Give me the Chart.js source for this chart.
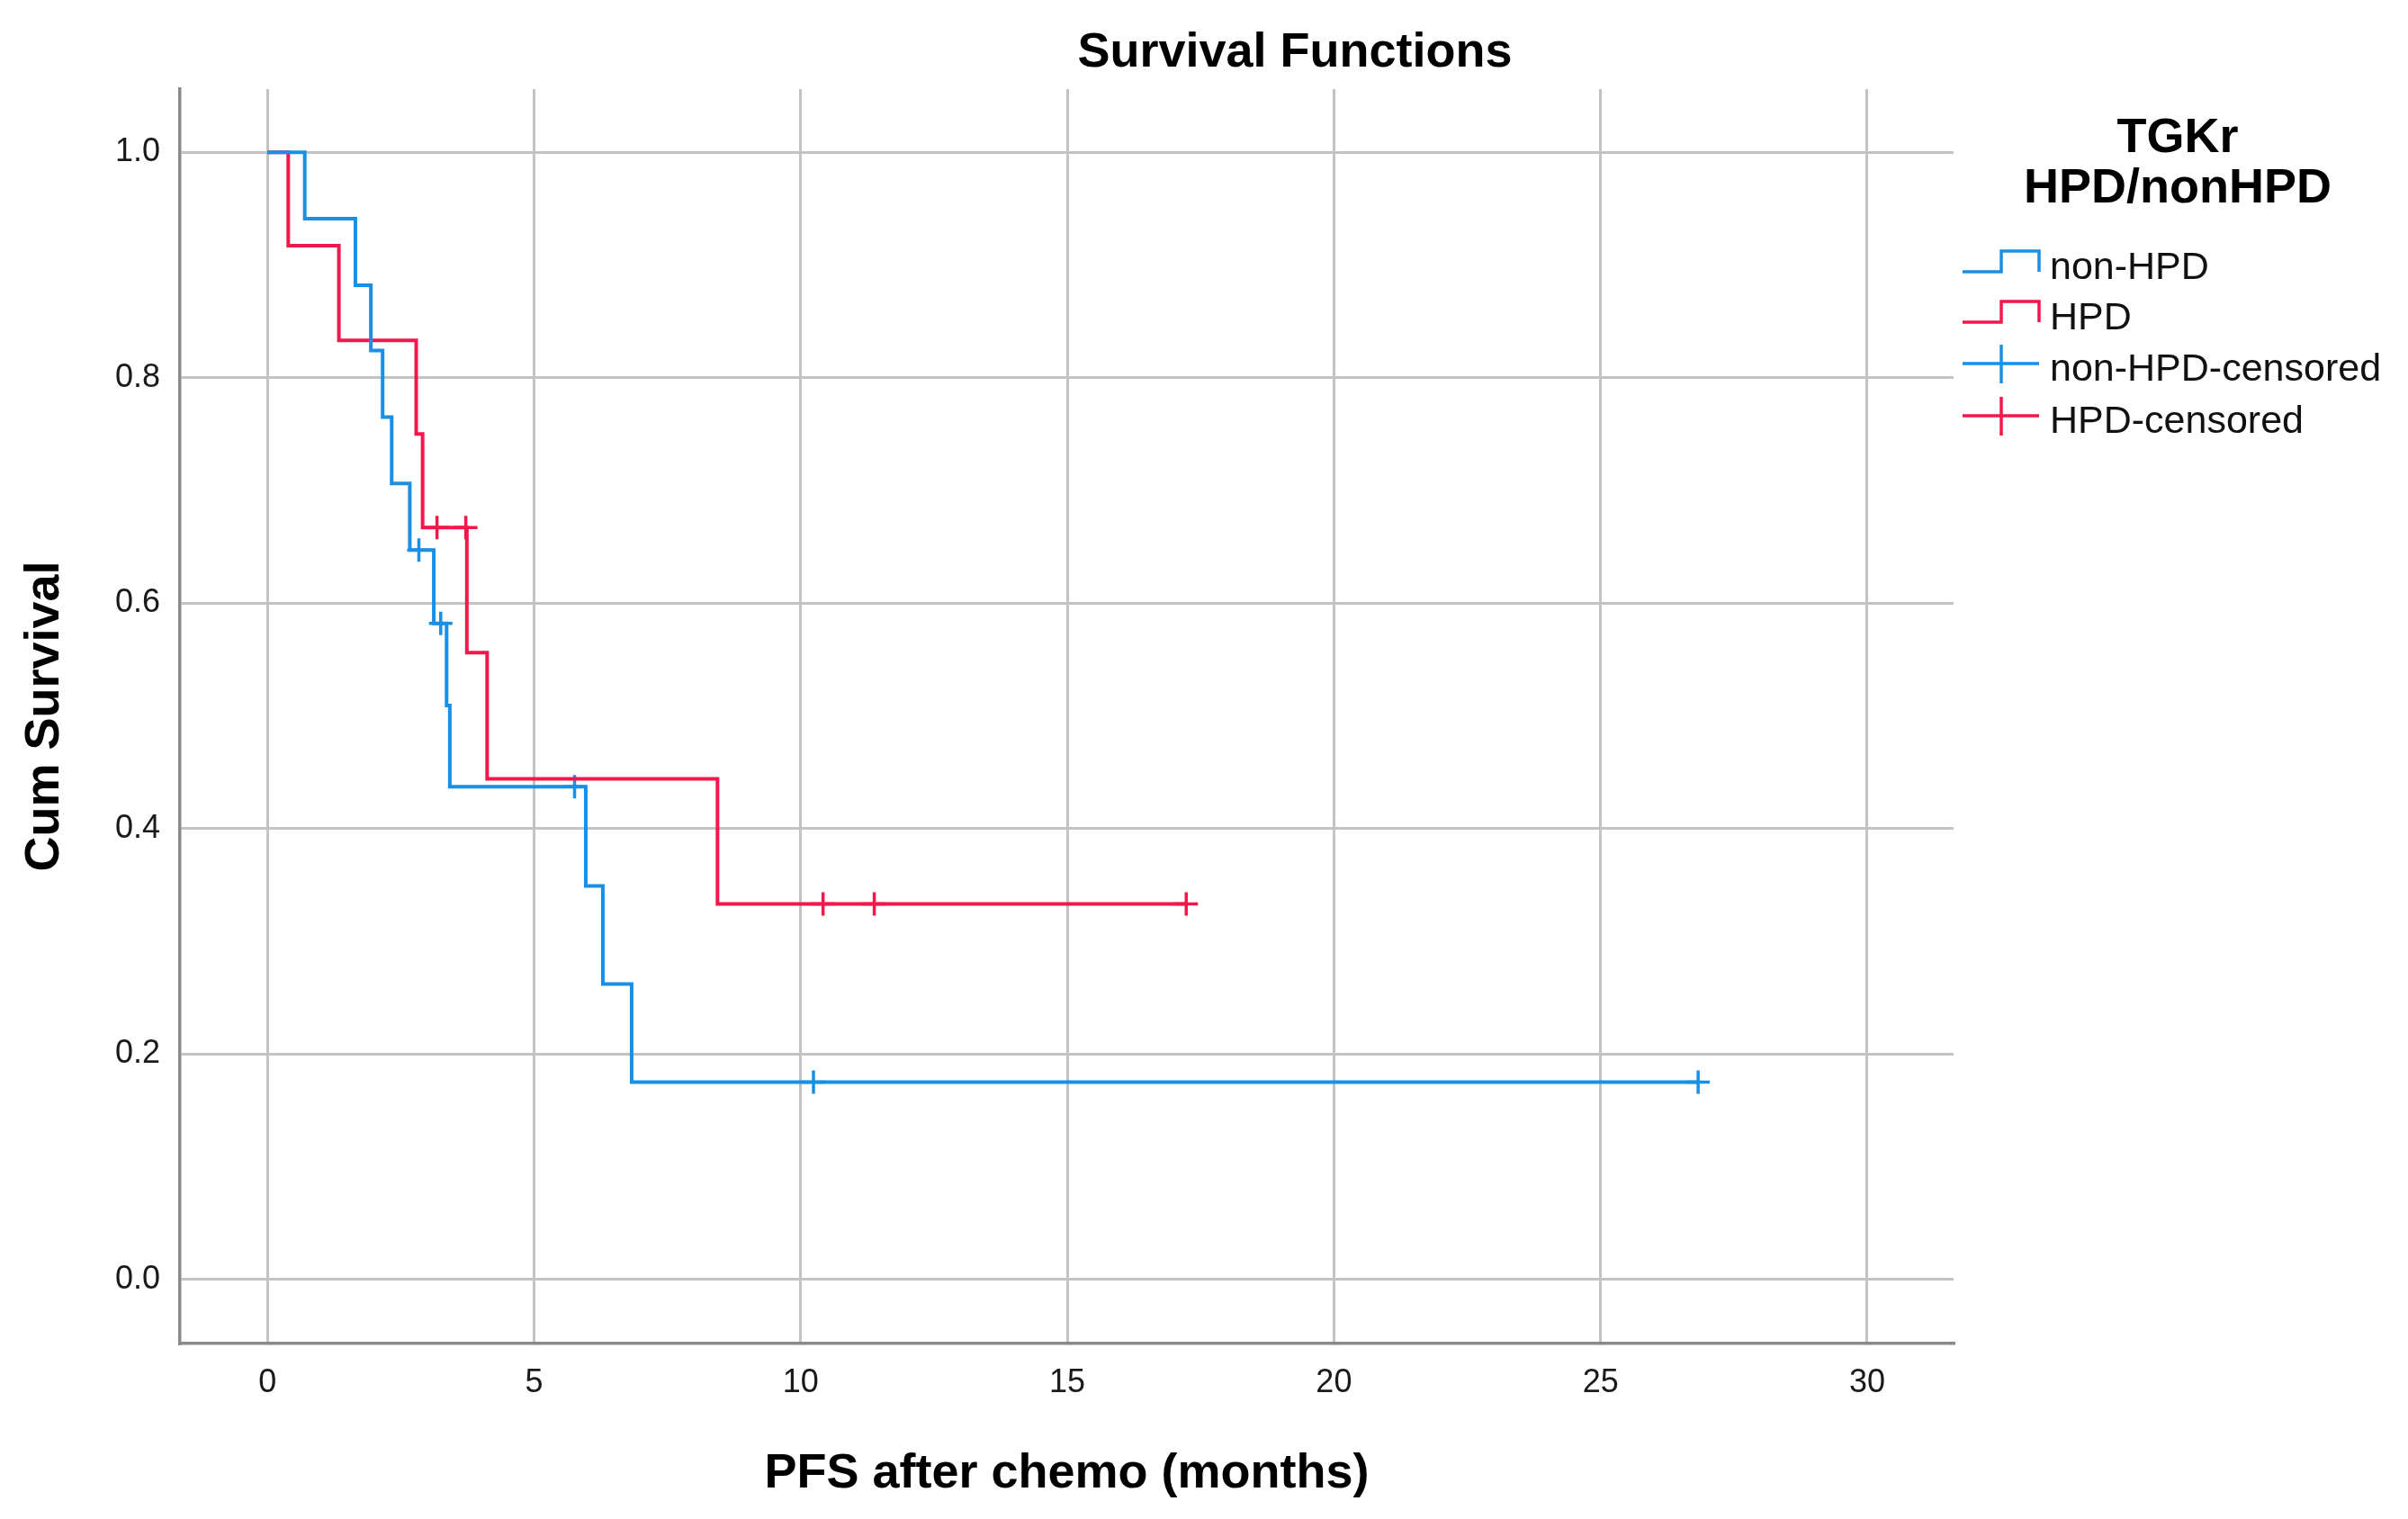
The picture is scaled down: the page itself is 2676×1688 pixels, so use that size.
<!DOCTYPE html>
<html>
<head>
<meta charset="utf-8">
<title>Survival Functions</title>
<script src="https://cdn.jsdelivr.net/npm/chart.js@4.4.1/dist/chart.umd.min.js"></script>
<style>
  body { margin: 0; background: #fff; font-family: "Liberation Sans", Arial, sans-serif; color: #000; }
  #wrap { position: relative; width: 2676px; height: 1688px; overflow: hidden; }
  #chart { position: absolute; left: 0; top: 0; }
  #title { position: absolute; left: 939px; top: 25px; width: 1000px; text-align: center;
           font-weight: bold; font-size: 54px; line-height: 60px; }
  #legend-title { position: absolute; left: 2170px; top: 122px; width: 500px; text-align: center;
                  font-weight: bold; font-size: 54px; line-height: 56px; }
  .item { position: absolute; left: 2180px; height: 58px; display: flex; align-items: center;
          font-size: 43px; line-height: 58px; color: #111; white-space: nowrap; }
  .item svg { margin-right: 8px; }
</style>
</head>
<body>
<div id="wrap">
  <canvas id="chart" width="2676" height="1688"></canvas>
  <div id="title">Survival Functions</div>
  <div id="legend-title">TGKr<br>HPD/nonHPD</div>
  <div id="legend"></div>
</div>
<script>
// axis ticks
const xTicks = [0, 5, 10, 15, 20, 25, 30];
const yTicks = [0.0, 0.2, 0.4, 0.6, 0.8, 1.0];

// non-HPD survival steps (months, cum survival)
const nonHpdTime = [0, 0.70, 1.65, 1.94, 2.16, 2.33, 2.67, 2.84, 3.12, 3.25, 3.36, 3.42, 5.76, 5.97, 6.29, 6.83, 10.24, 26.83];
const nonHpdSurv = [1.000, 0.941, 0.882, 0.824, 0.765, 0.706, 0.647, 0.647, 0.582, 0.582, 0.509, 0.437, 0.437, 0.349, 0.262, 0.175, 0.175, 0.175];
const nonHpdCensTime = [2.84, 3.25, 5.76, 10.24, 26.83];
const nonHpdCensSurv = [0.647, 0.582, 0.437, 0.175, 0.175];

// HPD survival steps
const hpdTime = [0, 0.39, 1.34, 2.79, 2.91, 3.18, 3.72, 3.74, 4.12, 8.44, 10.42, 11.38, 17.23];
const hpdSurv = [1.000, 0.917, 0.833, 0.750, 0.667, 0.667, 0.667, 0.556, 0.444, 0.333, 0.333, 0.333, 0.333];
const hpdCensTime = [3.18, 3.72, 10.42, 11.38, 17.23];
const hpdCensSurv = [0.667, 0.667, 0.333, 0.333, 0.333];

const legendLabels = ["non-HPD", "HPD", "non-HPD-censored", "HPD-censored"];

const BLUE = "#1b8fe4";
const RED = "#f2184c";
const FONT = '"Liberation Sans", Arial, sans-serif';

function pts(xs, ys) {
  return xs.map((x, i) => ({ x: x, y: ys[i] }));
}

Chart.defaults.font.family = FONT;
Chart.defaults.color = "#1a1a1a";

const ctx = document.getElementById("chart").getContext("2d");

new Chart(ctx, {
  type: "line",
  data: {
    datasets: [
      { label: legendLabels[0], data: pts(nonHpdTime, nonHpdSurv), stepped: true,
        borderColor: BLUE, borderWidth: 4, pointRadius: 0, fill: false },
      { label: legendLabels[1], data: pts(hpdTime, hpdSurv), stepped: true,
        borderColor: RED, borderWidth: 4, pointRadius: 0, fill: false },
      { label: legendLabels[2], data: pts(nonHpdCensTime, nonHpdCensSurv), showLine: false,
        pointStyle: "cross", pointRadius: 13, pointBorderWidth: 3.5, borderColor: BLUE, backgroundColor: BLUE },
      { label: legendLabels[3], data: pts(hpdCensTime, hpdCensSurv), showLine: false,
        pointStyle: "cross", pointRadius: 13, pointBorderWidth: 3.5, borderColor: RED, backgroundColor: RED }
    ]
  },
  options: {
    responsive: false,
    devicePixelRatio: 1,
    animation: false,
    layout: { padding: { left: 0, top: 99, right: 505, bottom: 0 } },
    plugins: {
      legend: { display: false },
      tooltip: { enabled: false }
    },
    scales: {
      x: {
        type: "linear",
        bounds: "data",
        min: -1.64,
        max: 31.62,
        afterBuildTicks: (s) => { s.ticks = xTicks.map(v => ({ value: v })); },
        afterFit: (s) => { s.height = 195; },
        ticks: { padding: 22, font: { size: 36 }, callback: (v) => String(v) },
        grid: { color: "#c3c3c3", lineWidth: 3, drawTicks: false },
        border: { display: true, color: "#8a8a8a", width: 3.5 },
        title: {
          display: true,
          text: "PFS after chemo (months)",
          color: "#000",
          font: { size: 54, weight: "bold" },
          padding: { top: 0, bottom: 17 }
        }
      },
      y: {
        type: "linear",
        bounds: "data",
        min: -0.057,
        max: 1.056,
        afterBuildTicks: (s) => { s.ticks = yTicks.map(v => ({ value: v })); },
        afterFit: (s) => { s.width = 200; },
        ticks: { padding: 22, font: { size: 36 }, callback: (v) => v.toFixed(1) },
        grid: { color: "#c3c3c3", lineWidth: 3, drawTicks: false },
        border: { display: true, color: "#8a8a8a", width: 3.5 },
        title: {
          display: true,
          text: "Cum Survival",
          color: "#000",
          font: { size: 54, weight: "bold" },
          padding: { top: 18, bottom: 0 }
        }
      }
    }
  }
});

// legend on the right, step icons for curves and crosses for censored marks
const legendRows = [
  { text: legendLabels[0], color: BLUE, kind: "step", top: 266 },
  { text: legendLabels[1], color: RED, kind: "step", top: 322 },
  { text: legendLabels[2], color: BLUE, kind: "cens", top: 379 },
  { text: legendLabels[3], color: RED, kind: "cens", top: 437 }
];
const legend = document.getElementById("legend");
legendRows.forEach(function (r) {
  const row = document.createElement("div");
  row.className = "item";
  row.style.top = r.top + "px";
  const path = r.kind === "step"
    ? '<path d="M1 36 H44 V13 H86 V36" fill="none" stroke="' + r.color + '" stroke-width="3.5"/>'
    : '<path d="M1 25 H86 M44 4 V47" fill="none" stroke="' + r.color + '" stroke-width="3.5"/>';
  row.innerHTML = '<svg width="90" height="58" viewBox="0 0 90 58">' + path + '</svg><span>' + r.text + '</span>';
  legend.appendChild(row);
});
</script>
</body>
</html>
